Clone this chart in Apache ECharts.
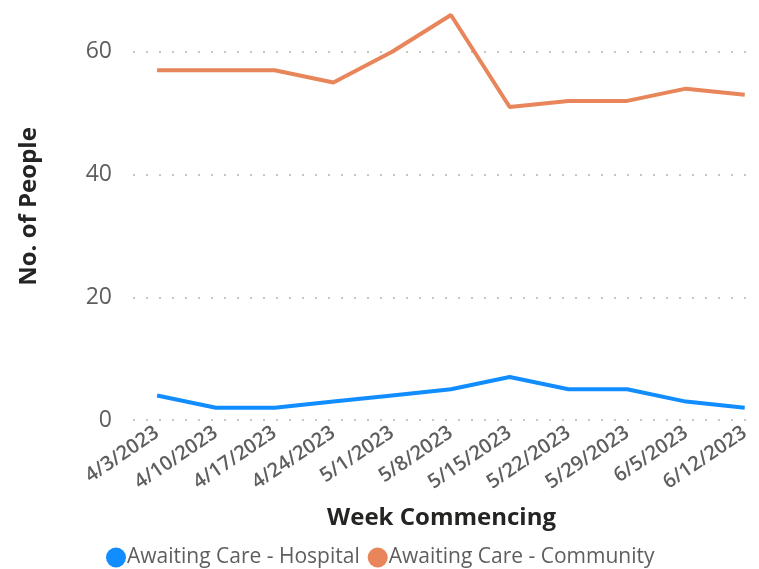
<!DOCTYPE html>
<html>
<head>
<meta charset="utf-8">
<script src="https://cdn.jsdelivr.net/npm/echarts@6/dist/echarts.min.js"></script>
<style>
  html, body { margin: 0; padding: 0; background: #fff; }
  #chart { width: 759px; height: 569px; }
</style>
</head>
<body>
<div id="chart"></div>
<script>
// weeks on the x axis
var weeks = ['4/3/2023', '4/10/2023', '4/17/2023', '4/24/2023', '5/1/2023', '5/8/2023',
             '5/15/2023', '5/22/2023', '5/29/2023', '6/5/2023', '6/12/2023'];
var hospital = [4, 2, 2, 3, 4, 5, 7, 5, 5, 3, 2];
var community = [57, 57, 57, 55, 60, 66, 51, 52, 52, 54, 53];
var yTicks = [0, 20, 40, 60];

var weekIdx = weeks.map(function (w, i) { return i; });
function pairs(vals) {
    return vals.map(function (v, i) { return [i, v]; });
}

var myChart = echarts.init(document.getElementById('chart'));
var option = {
    textStyle: { fontFamily: 'Open Sans' },
    legend: {
        bottom: -4,
        left: 101,
        icon: 'circle',
        itemWidth: 20,
        itemHeight: 20,
        itemGap: 8,
        textStyle: { color: '#605E5C', fontSize: 21, padding: [0, 0, 0, -4] },
        data: ['Awaiting Care - Hospital', 'Awaiting Care - Community']
    },
    grid: { left: 133, right: 9, top: 15, bottom: 149, containLabel: false },
    xAxis: {
        type: 'value',
        min: -0.41,
        max: 10.09,
        name: 'Week Commencing',
        nameLocation: 'middle',
        nameGap: 86,
        nameTextStyle: { fontSize: 24, fontWeight: 'bold', color: '#252423' },
        axisLine: { show: false },
        axisTick: { show: false },
        splitLine: { show: false },
        axisLabel: {
            customValues: weekIdx,
            rotate: 34,
            margin: 11,
            color: '#605E5C',
            fontSize: 20,
            fontWeight: 600,
            formatter: function (v) { return weeks[Math.round(v)]; }
        }
    },
    yAxis: {
        type: 'value',
        min: 0,
        max: 66,
        interval: 20,
        name: 'No. of People',
        nameLocation: 'middle',
        nameGap: 92,
        nameTextStyle: { fontSize: 24, fontWeight: 'bold', color: '#252423', padding: [0, 0, 0, 22] },
        axisLine: { show: false },
        axisTick: { show: false },
        axisLabel: {
            color: '#605E5C',
            fontSize: 23,
            margin: 21,
            showMaxLabel: false,
            formatter: function (v) { return yTicks.indexOf(v) >= 0 ? v : ''; }
        },
        splitLine: {
            showMaxLine: false,
            lineStyle: { type: [2, 11], color: '#C8C6C4', width: 2 }
        }
    },
    series: [{
        name: 'Awaiting Care - Hospital',
        type: 'line',
        data: pairs(hospital),
        symbol: 'none',
        lineStyle: { width: 4, color: '#118DFF' },
        itemStyle: { color: '#118DFF' }
    }, {
        name: 'Awaiting Care - Community',
        type: 'line',
        data: pairs(community),
        symbol: 'none',
        lineStyle: { width: 4, color: '#E8855A' },
        itemStyle: { color: '#E8855A' }
    }]
};
myChart.setOption(option);
</script>
</body>
</html>
